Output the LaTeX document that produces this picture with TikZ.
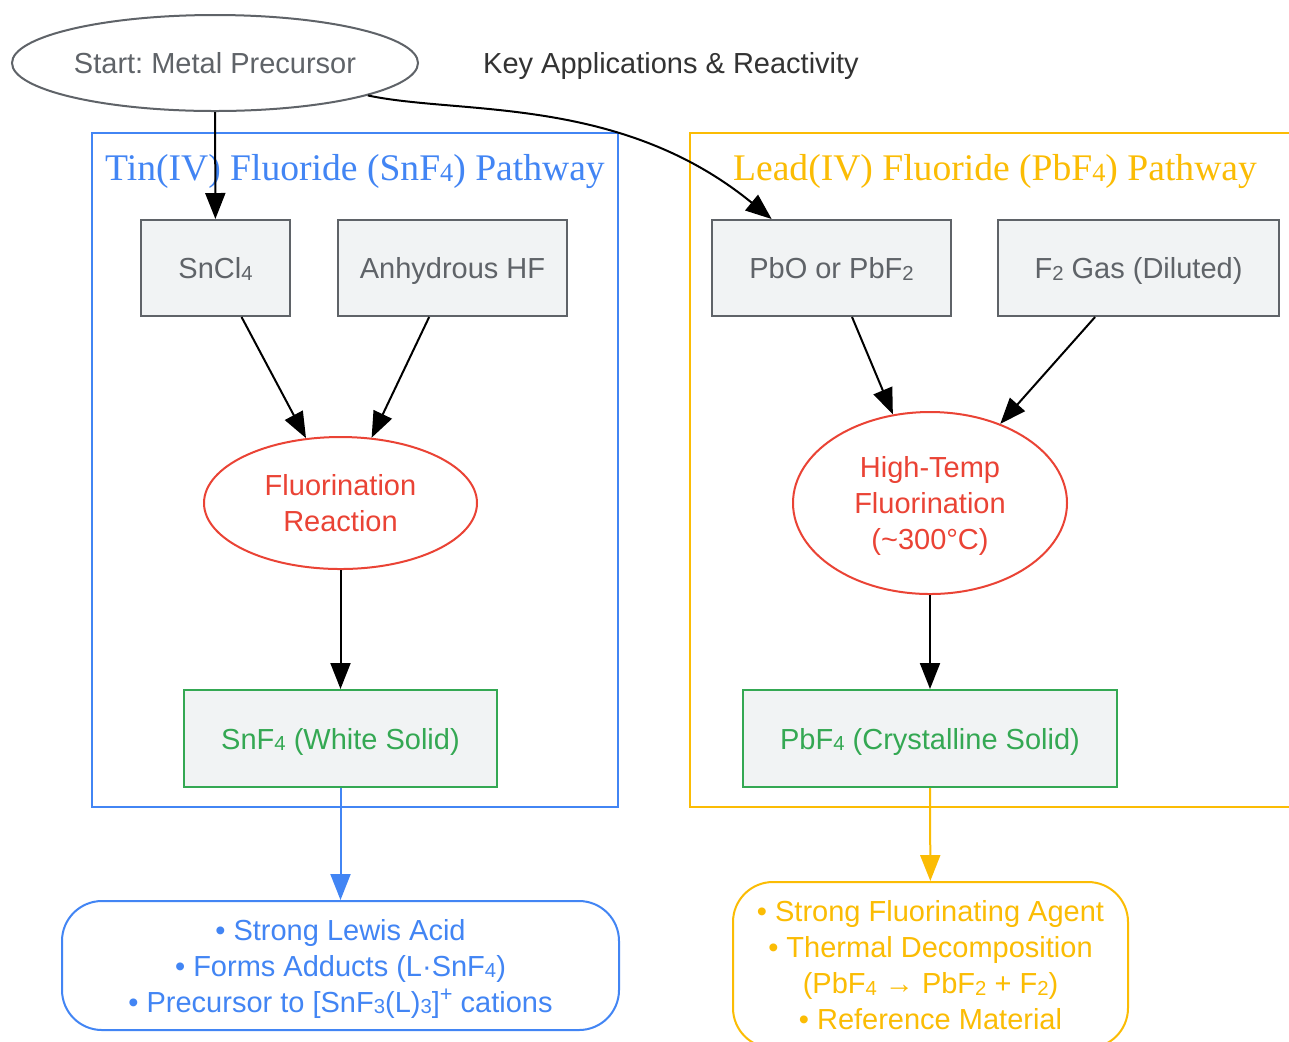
\documentclass[tikz,border=0pt]{standalone}
\usepackage{fontspec}
\setmainfont{Liberation Sans}
\newfontfamily\titlefont{Liberation Serif}
\usetikzlibrary{shapes.geometric}
\usetikzlibrary{arrows.meta}
\definecolor{gblue}{HTML}{4285F4}
\definecolor{gyellow}{HTML}{FBBC04}
\definecolor{gred}{HTML}{EA4335}
\definecolor{ggreen}{HTML}{34A853}
\definecolor{ggray}{HTML}{5F6368}
\definecolor{gfill}{HTML}{F1F3F4}
\definecolor{gtext}{HTML}{333333}
\newcommand{\sbs}[1]{\raisebox{-0.1ex}{\scalebox{0.7}{#1}}}
\newcommand{\sps}[1]{\raisebox{0.7ex}{\scalebox{0.75}{#1}}}
\frenchspacing
\tikzset{>={Triangle[length=13pt,width=10pt]}}
\tikzset{every node/.style={font=\fontsize{14.5}{18}\selectfont, text depth=0pt}}
\tikzset{raw/.style={draw=ggray, fill=gfill, text=ggray, line width=1pt, minimum height=48pt, inner sep=0pt}}
\tikzset{prod/.style={draw=ggreen, fill=gfill, text=ggreen, line width=1pt, minimum height=48.5pt, inner sep=0pt}}
\tikzset{react/.style={ellipse, draw=gred, text=gred, line width=1pt, align=center, inner sep=0pt}}
\tikzset{clust/.style={line width=1pt}}
\tikzset{ttl/.style={font=\titlefont\fontsize{18.8}{22}\selectfont}}
\tikzset{note/.style={rounded corners=20pt, draw, line width=1pt, align=center, inner sep=0pt}}
\tikzset{ed/.style={->, line width=1pt}}

\begin{document}
\begin{tikzpicture}[x=0.5pt,y=-0.5pt]
\clip (0,0) rectangle (1289,1041);
\fill[white] (0,0) rectangle (1289,1041);

% clusters
\draw[clust, gblue] (92,133) rectangle (618,807);
\draw[clust, gyellow] (690,133) rectangle (1300,807);
\node[ttl, text=gblue] (sntitle) at (355,167) {Tin(IV) Fluoride (SnF\sbs{4}) Pathway};
\node[ttl, text=gyellow] (pbtitle) at (995,167) {Lead(IV) Fluoride (PbF\sbs{4}) Pathway};

\node[ellipse, draw=ggray, text=ggray, line width=1pt, inner sep=0pt, minimum width=203pt, minimum height=48pt] (start) at (215,63) {Start: Metal Precursor};
\node[text=gtext] (keyapps) at (671,63) {Key Applications \& Reactivity};

% tin
\node[raw, minimum width=74.5pt] (sncl) at (215.5,268) {SnCl\sbs{4}};
\node[raw, minimum width=114.5pt] (hf) at (452.5,268) {Anhydrous HF};
\node[react, minimum width=136.5pt, minimum height=66pt] (fluor) at (340.5,503) {Fluorination\\Reaction};
\node[prod, minimum width=156.5pt] (snf) at (340.5,738.5) {SnF\sbs{4} (White Solid)};
\node[note, draw=gblue, text=gblue, minimum width=278.5pt, minimum height=64.5pt] (snapps) at (340.5,965.5) {• Strong Lewis Acid\\• Forms Adducts (L·SnF\sbs{4})\\• Precursor to [SnF\sbs{3}(L)\sbs{3}]\sps{+} cations};

% lead
\node[raw, minimum width=119.5pt] (pbo) at (831.5,268) {PbO or PbF\sbs{2}};
\node[raw, minimum width=140.5pt] (ftwo) at (1138.5,268) {F\sbs{2} Gas (Diluted)};
\node[react, minimum width=137pt, minimum height=91pt] (hot) at (930,503) {High-Temp\\Fluorination\\(\textasciitilde300°C)};
\node[prod, minimum width=187pt] (pbf) at (930,738.5) {PbF\sbs{4} (Crystalline Solid)};
\node[note, draw=gyellow, text=gyellow, minimum width=197.5pt, minimum height=83pt] (pbapps) at (930.5,965) {• Strong Fluorinating Agent\\• Thermal Decomposition\\(PbF\sbs{4} → PbF\sbs{2} + F\sbs{2})\\• Reference Material};

\draw[ed] (start) -- (sncl);
\draw[ed] (start) .. controls (460,115) and (620,95) .. (pbo);

\draw[ed] (sncl) -- (fluor);
\draw[ed] (hf) -- (fluor);
\draw[ed] (fluor) -- (snf);
\draw[ed, gblue] (snf) -- (snapps);

\draw[ed] (pbo) -- (hot);
\draw[ed] (ftwo) -- (hot);
\draw[ed] (hot) -- (pbf);
\draw[ed, gyellow] (pbf) -- (pbapps);
\end{tikzpicture}
\end{document}
